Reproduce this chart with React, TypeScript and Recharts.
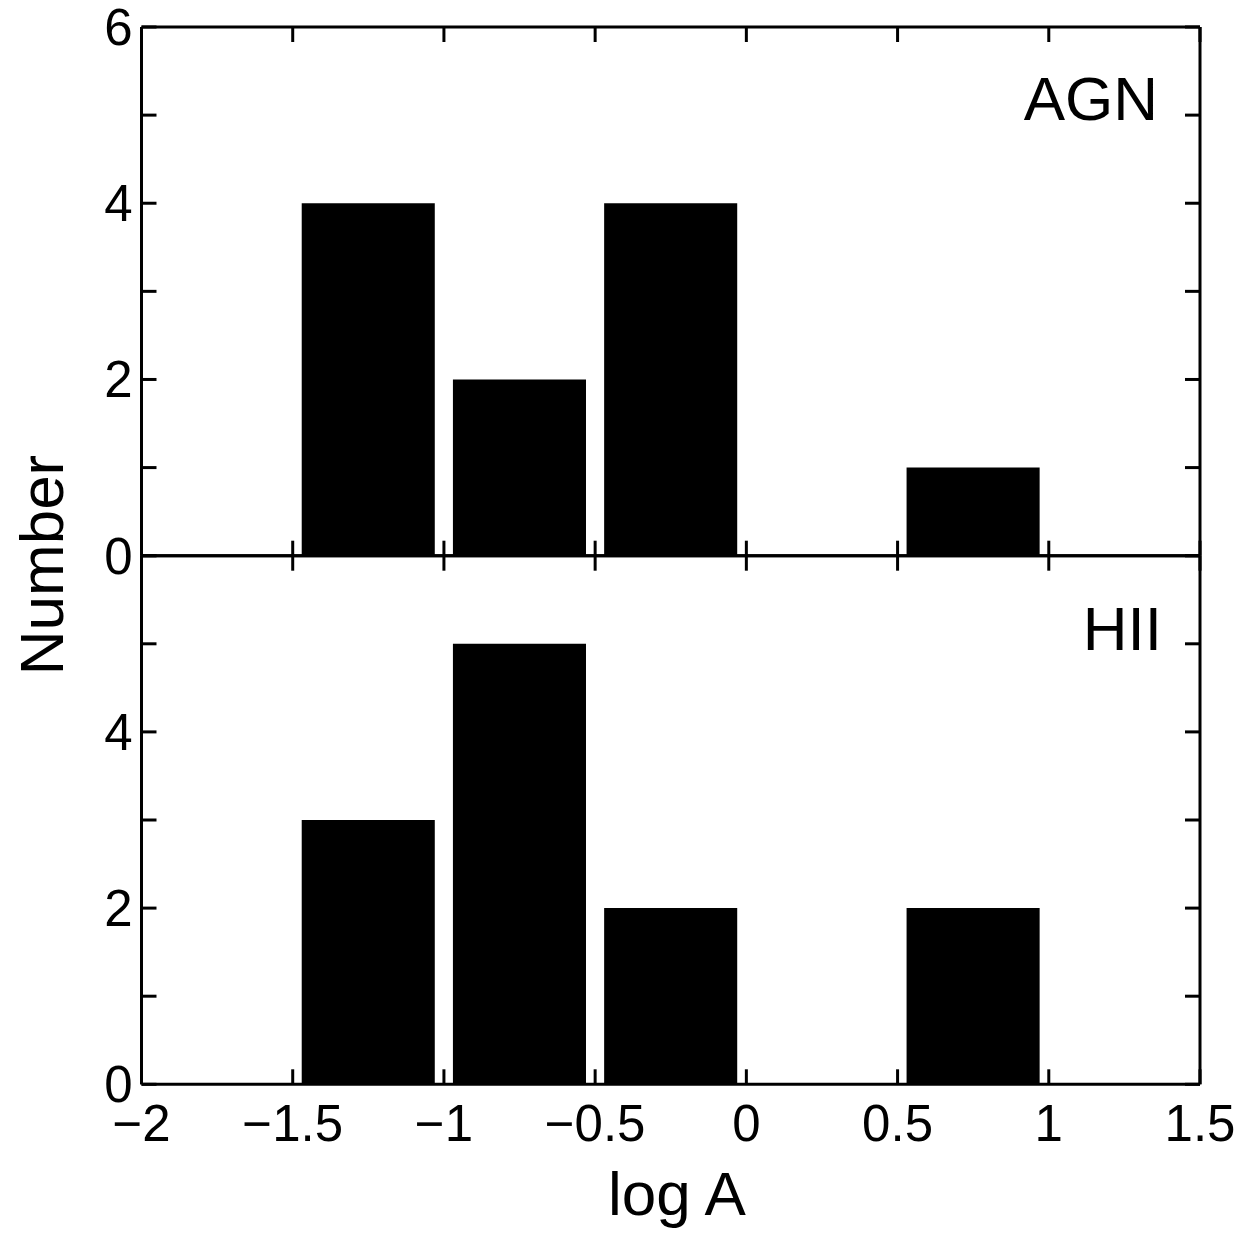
import { BarChart, Bar, XAxis, YAxis } from 'recharts';

// histogram bins (centre of each 0.5-wide bin in log A)
const binCenters = [-1.25, -0.75, -0.25, 0.25, 0.75];
const agnCounts = [4, 2, 4, 0, 1];
const hiiCounts = [3, 5, 2, 0, 2];

const xTicks = [-2, -1.5, -1, -0.5, 0, 0.5, 1, 1.5];
const yTicks = [0, 1, 2, 3, 4, 5, 6];
const agnYLabels = [0, 2, 4, 6];
const hiiYLabels = [0, 2, 4];

const FONT = '"Liberation Sans", Arial, Helvetica, sans-serif';
const W = 1257;
const H = 1247;
const PLOT_L = 141.5;
const PLOT_R = 1200;
const TOP_T = 27;
const MID = 555.7;
const BOT_B = 1084.3;
const TICK = 15;
const LW = 3;
const TICK_FS = 51;
const BAR_W = (0.44 * (PLOT_R - PLOT_L)) / 3.5;

const fmt = (v: number) => (v < 0 ? '\u2212' + Math.abs(v) : String(v));
const axisLine = { stroke: '#000', strokeWidth: LW };

function LeftTick(p: any) {
  const ax = p.x + 9;
  const show = p.labels.includes(p.payload.value);
  return (
    <g>
      <line x1={ax} y1={p.y} x2={ax + TICK} y2={p.y} stroke="#000" strokeWidth={LW} />
      {show && (
        <text x={p.x} y={p.y + 18} textAnchor="end" fontSize={TICK_FS} fontFamily={FONT} fill="#000">
          {fmt(p.payload.value)}
        </text>
      )}
    </g>
  );
}

function RightTick(p: any) {
  return <line x1={p.x} y1={p.y} x2={p.x - TICK} y2={p.y} stroke="#000" strokeWidth={LW} />;
}

function TopTick(p: any) {
  return <line x1={p.x} y1={p.y} x2={p.x} y2={p.y + TICK} stroke="#000" strokeWidth={LW} />;
}

function BottomTick(p: any) {
  const ay = p.y - p.gap;
  return (
    <g>
      <line x1={p.x} y1={ay} x2={p.x} y2={ay - TICK} stroke="#000" strokeWidth={LW} />
      {p.labels && (
        <text x={p.x} y={p.y} textAnchor="middle" fontSize={TICK_FS} fontFamily={FONT} fill="#000">
          {fmt(p.payload.value)}
        </text>
      )}
    </g>
  );
}

function Panel({ counts, yLabels, top, height, xLabels }: { counts: number[]; yLabels: number[]; top: number; height: number; xLabels: boolean }) {
  const rows = binCenters.map((x, i) => ({ x, n: counts[i] }));
  const plotTop = top === 0 ? TOP_T : MID;
  const plotBottom = top === 0 ? MID : BOT_B;
  const gap = xLabels ? 57 : 0;
  return (
    <div style={{ position: 'absolute', left: 0, top }}>
      <BarChart
        width={W}
        height={height}
        data={rows}
        margin={{ top: plotTop - top - 1, right: W - PLOT_R - 1, bottom: top + height - plotBottom - 1, left: PLOT_L - 1 }}
      >
        <XAxis
          xAxisId="b"
          dataKey="x"
          type="number"
          domain={[-2, 1.5]}
          allowDataOverflow
          ticks={xTicks}
          interval={0}
          height={1}
          tickSize={0}
          tickMargin={gap}
          axisLine={axisLine}
          tickLine={false}
          tick={(p: any) => <BottomTick {...p} gap={gap} labels={xLabels} />}
        />
        <XAxis
          xAxisId="t"
          dataKey="x"
          orientation="top"
          type="number"
          domain={[-2, 1.5]}
          allowDataOverflow
          ticks={xTicks}
          interval={0}
          height={1}
          tickSize={0}
          tickMargin={0}
          axisLine={axisLine}
          tickLine={false}
          tick={(p: any) => <TopTick {...p} />}
        />
        <YAxis
          yAxisId="l"
          type="number"
          domain={[0, 6]}
          allowDataOverflow
          ticks={yTicks}
          interval={0}
          width={1}
          tickSize={0}
          tickMargin={9}
          axisLine={axisLine}
          tickLine={false}
          tick={(p: any) => <LeftTick {...p} labels={yLabels} />}
        />
        <YAxis
          yAxisId="r"
          dataKey="n"
          orientation="right"
          type="number"
          domain={[0, 6]}
          allowDataOverflow
          ticks={yTicks}
          interval={0}
          width={1}
          tickSize={0}
          tickMargin={0}
          axisLine={axisLine}
          tickLine={false}
          tick={(p: any) => <RightTick {...p} />}
        />
        <Bar xAxisId="b" yAxisId="l" dataKey="n" fill="#000" barSize={BAR_W} isAnimationActive={false} />
      </BarChart>
    </div>
  );
}

export default function App() {
  return (
    <div style={{ position: 'absolute', left: 0, top: 0, width: W, height: H, background: '#fff' }}>
      <Panel counts={agnCounts} yLabels={agnYLabels} top={0} height={600} xLabels={false} />
      <Panel counts={hiiCounts} yLabels={hiiYLabels} top={520} height={727} xLabels={true} />
      <svg width={W} height={H} style={{ position: 'absolute', left: 0, top: 0, pointerEvents: 'none' }}>
        <text x={1158} y={120} textAnchor="end" fontSize={62} fontFamily={FONT} fill="#000">AGN</text>
        <text x={1162} y={650} textAnchor="end" fontSize={62} fontFamily={FONT} fill="#000">HII</text>
        <text x={677} y={1215} textAnchor="middle" fontSize={62} fontFamily={FONT} fill="#000">log A</text>
        <text x={63} y={565} textAnchor="middle" fontSize={62} fontFamily={FONT} fill="#000" transform="rotate(-90 63 565)">Number</text>
      </svg>
    </div>
  );
}
